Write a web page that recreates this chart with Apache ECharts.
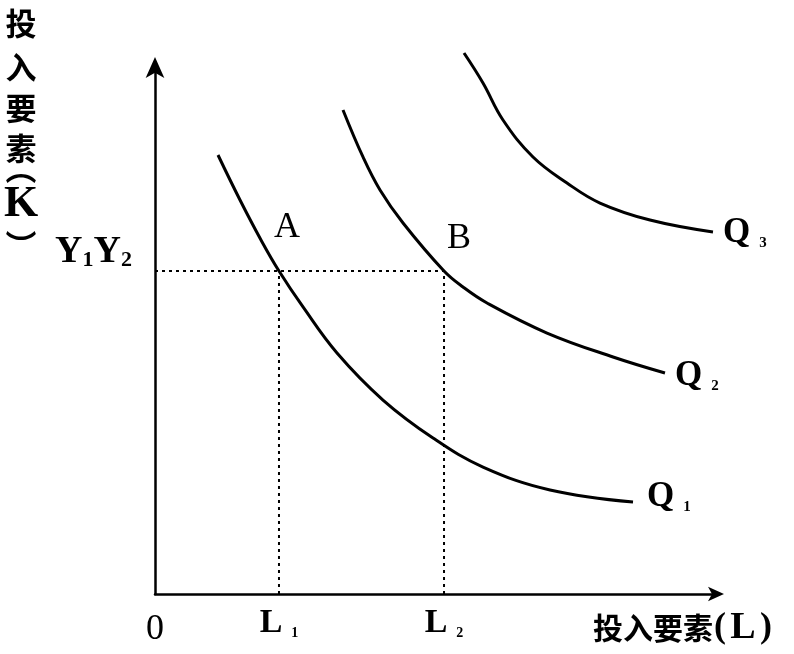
<!DOCTYPE html>
<html>
<head>
<meta charset="utf-8">
<script src="https://cdn.jsdelivr.net/npm/echarts@6/dist/echarts.min.js"></script>
<style>html,body{margin:0;padding:0;background:#fff}#c{width:794px;height:654px}</style>
</head>
<body>
<div id="c"></div>
<script>
// ---- data ----
const Q1 = [[1.125,8.314],[1.518,7.462],[1.893,6.705],[2.214,6.117],[2.643,5.436],[3.25,4.564],[4.071,3.674],[4.964,2.955],[5.857,2.405],[7.054,1.970],[8.536,1.742]];
const Q2 = [[3.357,9.167],[3.714,8.277],[4.018,7.652],[4.429,7.027],[5.161,6.117],[5.5,5.814],[5.929,5.511],[7.0,4.943],[8.179,4.489],[9.107,4.186]];
const Q3 = [[5.518,10.246],[5.857,9.678],[6.214,8.977],[6.75,8.277],[7.357,7.784],[7.946,7.405],[8.839,7.083],[9.964,6.856]];
const pointA = [2.214, 6.117];
const pointB = [5.161, 6.117];
const pointNames = ['A', 'B'];
const curveNames = ['Q1', 'Q2', 'Q3'];
const curveSubs = ['1', '2', '3'];
const xTickValues = [0, 2.214, 5.161];
const xTickMain = ['0', 'L', 'L'];
const xTickSub = ['', '1', '2'];
const yTickValues = [6.117];
const yTickParts = [['Y', '1'], ['Y', '2']];
const xTitle = ['投入要素', '(', 'L', ')'];
const yTitleChars = ['投', '入', '要', '素', '︵', 'K', '︶'];

// ---- chart ----
const SERIF = '"Liberation Serif","Times New Roman",serif';
const CJK = '"Noto Sans CJK SC","Noto Sans CJK JP",sans-serif';
const chart = echarts.init(document.getElementById('c'), null, {renderer: 'canvas'});

const curves = [Q1, Q2, Q3];
const endOffsets = [[6, -5], [2, 3], [2, 1]];
const curveSeries = curves.map((d, i) => ({
  type: 'line', name: curveNames[i], data: d, smooth: 0.4, symbol: 'none', clip: false,
  lineStyle: {color: '#000', width: 3},
  endLabel: {
    show: true, distance: 8, offset: endOffsets[i],
    formatter: () => '{m|Q}{s|' + curveSubs[i] + '}',
    rich: {
      m: {fontFamily: SERIF, fontSize: 35, fontWeight: 'bold', color: '#000'},
      s: {fontFamily: SERIF, fontSize: 15, fontWeight: 'bold', color: '#000', padding: [0, 0, 0, 9], verticalAlign: 'bottom', lineHeight: 30}
    }
  },
  emphasis: {disabled: true}, silent: true, z: 3
}));

const dotted = {color: '#000', width: 2, type: [3, 4]};
const guideSeries = [
  [[0, pointB[1]], pointB],
  [[pointA[0], 0], pointA],
  [[pointB[0], 0], pointB]
].map(d => ({type: 'line', data: d, symbol: 'none', lineStyle: dotted, silent: true, z: 2}));

const labelOffsets = [[8, -43], [15, -32]];
const pointSeries = {
  type: 'scatter', symbolSize: 0, silent: true, itemStyle: {opacity: 1},
  data: [pointA, pointB].map((p, i) => ({
    value: p, name: pointNames[i],
    label: {show: true, position: 'inside', offset: labelOffsets[i], formatter: pointNames[i],
      fontFamily: SERIF, fontSize: 36, color: '#000', opacity: 1, textBorderWidth: 0}
  }))
};

const option = {
  animation: false,
  backgroundColor: '#fff',
  grid: {left: 155, right: 79, top: 66, bottom: 60, containLabel: false, outerBoundsMode: 'none'},
  xAxis: {
    type: 'value', min: 0, max: 10,
    axisLine: {show: true, onZero: false, lineStyle: {color: '#000', width: 2.5}, symbol: ['none', 'arrow'], symbolSize: [11, 16], symbolOffset: [0, 9]},
    axisTick: {show: false}, splitLine: {show: false},
    axisLabel: {
      customValues: xTickValues, margin: 12, color: '#000',
      formatter: function (v) {
        let i = 0, best = 1e9;
        xTickValues.forEach((t, k) => { if (Math.abs(t - v) < best) { best = Math.abs(t - v); i = k; } });
        return xTickSub[i] ? '{m|' + xTickMain[i] + '}{s|' + xTickSub[i] + '}' : '{z|' + xTickMain[i] + '}';
      },
      rich: {
        m: {fontFamily: SERIF, fontSize: 34, fontWeight: 'bold', color: '#000'},
        s: {fontFamily: SERIF, fontSize: 14, fontWeight: 'bold', color: '#000', padding: [0, 0, 0, 9], verticalAlign: 'bottom', lineHeight: 30},
        z: {fontFamily: SERIF, fontSize: 36, color: '#000', padding: [6, 0, 0, 0]}
      }
    }
  },
  yAxis: {
    type: 'value', min: 0, max: 10,
    axisLine: {show: true, onZero: false, lineStyle: {color: '#000', width: 2.5}, symbol: ['none', 'arrow'], symbolSize: [14, 21], symbolOffset: [0, 9]},
    axisTick: {show: false}, splitLine: {show: false},
    axisLabel: {
      customValues: yTickValues, margin: 23, verticalAlign: 'bottom', color: '#000',
      formatter: () => yTickParts.map(p => '{m|' + p[0] + '}{s|' + p[1] + '}').join(''),
      rich: {
        m: {fontFamily: SERIF, fontSize: 38, fontWeight: 'bold', color: '#000'},
        s: {fontFamily: SERIF, fontSize: 22, fontWeight: 'bold', color: '#000', verticalAlign: 'bottom', lineHeight: 34}
      }
    }
  },
  graphic: [
    {type: 'text', left: 593, top: 609, silent: true,
      style: {text: '{c|' + xTitle[0] + '}{p|' + xTitle[1] + '}{l|' + xTitle[2] + '}{p|' + xTitle[3] + '}',
        rich: {
          c: {fontFamily: CJK, fontSize: 30, fontWeight: 'bold', fill: '#000'},
          p: {fontFamily: SERIF, fontSize: 36, fontWeight: 'bold', fill: '#000', width: 14, align: 'center'},
          l: {fontFamily: SERIF, fontSize: 38, fontWeight: 'bold', fill: '#000', width: 32, align: 'center'}
        }}}
  ].concat(yTitleChars.map((ch, i) => {
    const ys = [23, 67, 108, 148, 168, 205, 245];
    return {type: 'text', x: 21, y: ys[i], silent: true,
      style: {text: ch, align: 'center', verticalAlign: 'middle',
        fontFamily: i === 5 ? SERIF : CJK, fontSize: i === 5 ? 44 : 31, fontWeight: 'bold', fill: '#000'}};
  })),
  series: curveSeries.concat(guideSeries, [pointSeries])
};
chart.setOption(option);
</script>
</body>
</html>
